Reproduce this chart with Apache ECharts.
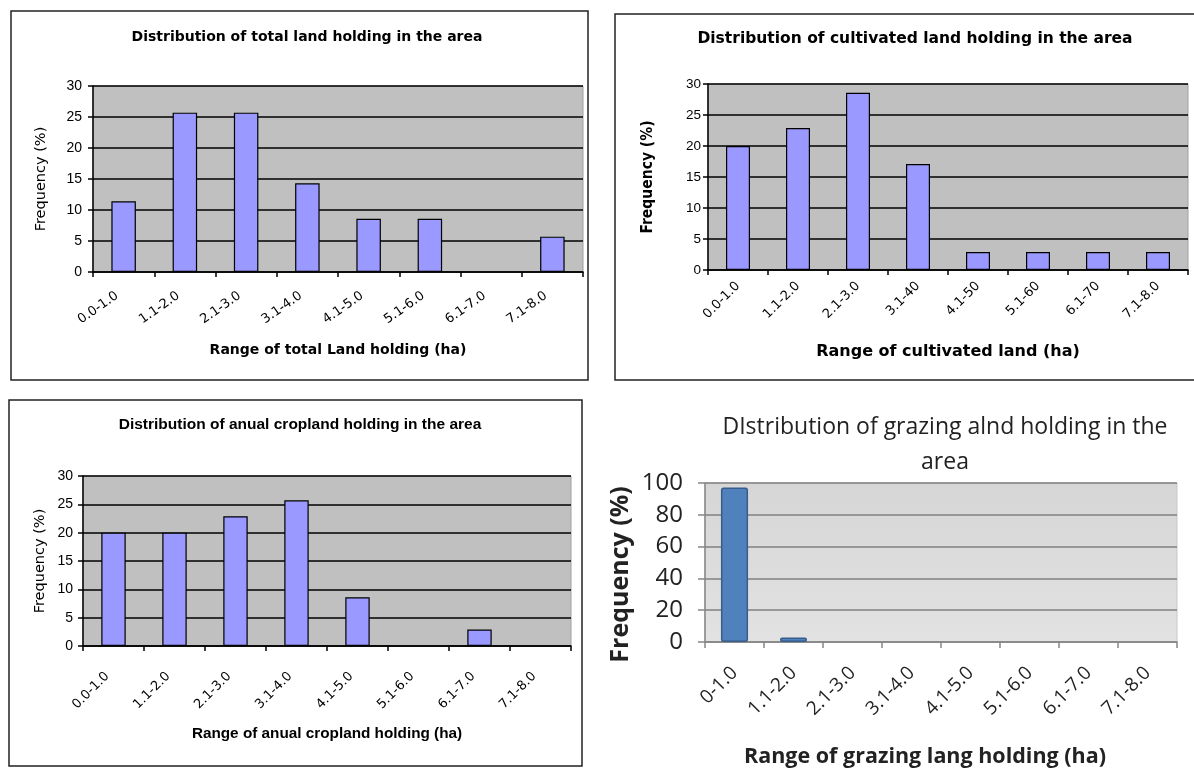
<!DOCTYPE html>
<html>
<head>
<meta charset="utf-8">
<script src="https://cdn.jsdelivr.net/npm/echarts@6/dist/echarts.min.js"></script>
<style>
html,body{margin:0;padding:0;background:#fff;}
#chart{width:1194px;height:769px;}
</style>
</head>
<body>
<div id="chart"></div>
<script>
// ---- data ----
const catsTotal = ['0.0-1.0','1.1-2.0','2.1-3.0','3.1-4.0','4.1-5.0','5.1-6.0','6.1-7.0','7.1-8.0'];
const catsCult = ['0.0-1.0','1.1-2.0','2.1-3.0','3.1-40','4.1-50','5.1-60','6.1-70','7.1-8.0'];
const catsCrop = ['0.0-1.0','1.1-2.0','2.1-3.0','3.1-4.0','4.1-5.0','5.1-6.0','6.1-7.0','7.1-8.0'];
const catsGraze = ['0-1.0','1.1-2.0','2.1-3.0','3.1-4.0','4.1-5.0','5.1-6.0','6.1-7.0','7.1-8.0'];

const valsTotal = [11.4, 25.7, 25.7, 14.3, 8.6, 8.6, 0, 5.7];
const valsCult  = [20.0, 22.9, 28.6, 17.1, 2.9, 2.9, 2.9, 2.9];
const valsCrop  = [20.0, 20.0, 22.9, 25.7, 8.6, 0, 2.9, 0];
const valsGraze = [97.1, 2.9, 0, 0, 0, 0, 0, 0];

const titles = [
  'Distribution of total land holding in the area',
  'Distribution of cultivated land holding in the area',
  'Distribution of anual cropland holding in the area',
  'DIstribution of grazing alnd holding in the\narea'
];
const xNames = [
  'Range of total Land holding (ha)',
  'Range of cultivated land (ha)',
  'Range of anual cropland holding (ha)',
  'Range of grazing lang holding (ha)'
];
const yName = 'Frequency (%)';

// ---- chart ----
const chart = echarts.init(document.getElementById('chart'), null, {renderer: 'canvas'});
const AR = 'Liberation Sans, Arial, sans-serif';
const DV = 'DejaVu Sans, sans-serif';
const DVC = 'DejaVu Sans Condensed, DejaVu Sans, sans-serif';
const CAL = 'Open Sans, Noto Sans, sans-serif';

// zero-height bars draw nothing (as in the source chart)
const shown = vals => vals.map(v => (v === 0 ? null : v));

function oldX(idx, cats, name, rot, margin, pad, nameGap, nameFont, nameSize) {
  return {
    gridIndex: idx, type: 'category', data: cats,
    axisLine: {show: true, lineStyle: {color: '#000', width: 1.5}},
    axisTick: {show: true, length: 5, lineStyle: {color: '#000', width: 1.5}},
    axisLabel: {rotate: rot, margin: margin, padding: [0, pad, 0, 0], fontFamily: DV, fontSize: 13, color: '#000', interval: 0},
    name: name, nameLocation: 'middle', nameGap: nameGap,
    nameTextStyle: {fontFamily: nameFont, fontWeight: 'bold', fontSize: nameSize, color: '#000'}
  };
}
function oldY(idx, nameGap, font, size, weight, lblSize, lblMargin) {
  return {
    gridIndex: idx, type: 'value', min: 0, max: 30, interval: 5,
    axisLine: {show: true, lineStyle: {color: '#000', width: 1.5}},
    axisTick: {show: true, length: 5, lineStyle: {color: '#000', width: 1.5}},
    axisLabel: {fontFamily: AR, fontSize: lblSize, color: '#000', margin: lblMargin},
    splitLine: {show: true, lineStyle: {color: '#000', width: 1.5}},
    name: yName, nameLocation: 'middle', nameGap: nameGap,
    nameTextStyle: {fontFamily: font, fontWeight: weight || 'normal', fontSize: size, color: '#000'}
  };
}
function oldBar(idx, vals) {
  return {
    type: 'bar', xAxisIndex: idx, yAxisIndex: idx, data: shown(vals), barWidth: '40%',
    itemStyle: {color: '#9999ff', borderColor: '#000', borderWidth: 1.2},
    silent: true, animation: false
  };
}

const option = {
  animation: false,
  backgroundColor: '#fff',
  title: [
    {text: titles[0], left: 302, top: 25, textAlign: 'center',
     textStyle: {fontFamily: DV, fontWeight: 'bold', fontSize: 14, color: '#000'}},
    {text: titles[1], left: 910, top: 26, textAlign: 'center',
     textStyle: {fontFamily: DV, fontWeight: 'bold', fontSize: 15.5, color: '#000'}},
    {text: titles[2], left: 295, top: 412, textAlign: 'center',
     textStyle: {fontFamily: AR, fontWeight: 'bold', fontSize: 15.5, color: '#000'}},
    {text: titles[3], left: 940, top: 405, textAlign: 'center',
     textStyle: {fontFamily: CAL, fontWeight: 'normal', fontSize: 23, color: '#222', lineHeight: 35}}
  ],
  grid: [
    {left: 93, top: 86, width: 490, height: 186, show: true, backgroundColor: '#c0c0c0', borderColor: '#a0a0a0', borderWidth: 1},
    {left: 708, top: 84, width: 480, height: 186, show: true, backgroundColor: '#c0c0c0', borderColor: '#a0a0a0', borderWidth: 1},
    {left: 83, top: 476, width: 488, height: 170, show: true, backgroundColor: '#c0c0c0', borderColor: '#a0a0a0', borderWidth: 1},
    {left: 705, top: 483, width: 472, height: 164, show: true,
     backgroundColor: new echarts.graphic.LinearGradient(0, 0, 0, 1, [{offset: 0, color: '#d6d6d6'}, {offset: 1, color: '#e2e2e2'}]),
     borderColor: '#c8c8c8', borderWidth: 1}
  ],
  xAxis: [
    oldX(0, catsTotal, xNames[0], 35, 18, 8, 71, DV, 14),
    oldX(1, catsCult, xNames[1], 45, 14, 0, 74, DV, 16),
    oldX(2, catsCrop, xNames[2], 45, 22, 9, 80, AR, 15.3),
    {
      gridIndex: 3, type: 'category', data: catsGraze,
      axisLine: {show: true, lineStyle: {color: '#868686', width: 1.5}},
      axisTick: {show: true, length: 6, lineStyle: {color: '#868686', width: 1.5}},
      axisLabel: {rotate: 45, margin: 28, fontFamily: CAL, fontSize: 19, color: '#222', interval: 0},
      name: xNames[3], nameLocation: 'middle', nameGap: 104,
      nameTextStyle: {fontFamily: CAL, fontWeight: 'bold', fontSize: 21.5, color: '#222', padding: [0, 32, 0, 0]}
    }
  ],
  yAxis: [
    oldY(0, 44, DV, 14.5, 'normal', 14, 11),
    oldY(1, 52, DVC, 15.5, 'bold', 13.5, 7),
    oldY(2, 35, DV, 14.5, 'normal', 14, 10),
    {
      gridIndex: 3, type: 'value', min: 0, max: 100, interval: 20,
      axisLine: {show: true, lineStyle: {color: '#868686', width: 1.5}},
      axisTick: {show: true, length: 7, lineStyle: {color: '#868686', width: 1.5}},
      axisLabel: {fontFamily: CAL, fontSize: 24, color: '#222', margin: 22},
      splitLine: {show: true, lineStyle: {color: '#808080', width: 1.5}},
      name: yName, nameLocation: 'middle', nameGap: 72,
      nameTextStyle: {fontFamily: CAL, fontWeight: 'bold', fontSize: 25, color: '#222', padding: [0, 24, 0, 0]}
    }
  ],
  series: [
    oldBar(0, valsTotal),
    oldBar(1, valsCult),
    oldBar(2, valsCrop),
    {
      type: 'bar', xAxisIndex: 3, yAxisIndex: 3, data: shown(valsGraze), barWidth: '46%',
      itemStyle: {color: '#4f81bd', borderColor: '#385d8a', borderWidth: 1.5, borderRadius: 2},
      silent: true, animation: false
    }
  ],
  graphic: [
    {type: 'rect', shape: {x: 11, y: 11, width: 577, height: 369}, style: {fill: 'none', stroke: '#222', lineWidth: 1.5}, silent: true},
    {type: 'rect', shape: {x: 615, y: 14, width: 600, height: 366}, style: {fill: 'none', stroke: '#222', lineWidth: 1.5}, silent: true},
    {type: 'rect', shape: {x: 9, y: 400, width: 573, height: 366}, style: {fill: 'none', stroke: '#222', lineWidth: 1.5}, silent: true}
  ]
};
chart.setOption(option);
</script>
</body>
</html>
